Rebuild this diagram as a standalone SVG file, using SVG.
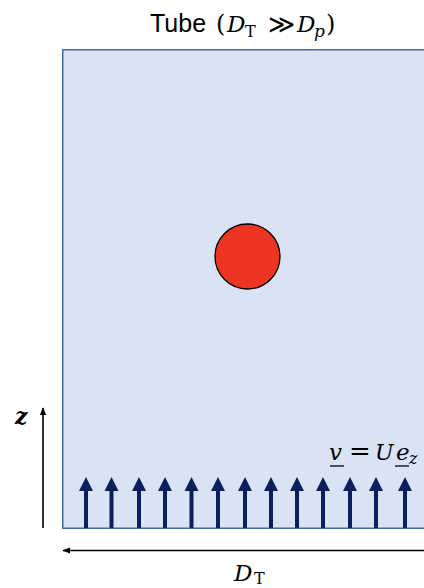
<svg xmlns="http://www.w3.org/2000/svg" xmlns:xlink="http://www.w3.org/1999/xlink" width="424" height="588" viewBox="0 0 424 588">
<style>
.sans{font-family:"Liberation Sans",Arial,sans-serif;fill:#000}
.math{font-family:"DejaVu Serif","Liberation Serif",serif;font-style:italic;fill:#000}
.up{font-style:normal}
.axis{stroke:#000;stroke-width:1.6;fill:none}
</style>
<defs>
<marker id="ah" viewBox="0 0 10 10" refX="9" refY="5" markerWidth="8" markerHeight="8" orient="auto-start-reverse" markerUnits="userSpaceOnUse">
<path d="M0,1 L10,5 L0,9 Z" fill="#000"/>
</marker>
<g id="flow">
<rect x="-2" y="-38" width="4" height="38" fill="#0B1F5E"/>
<path d="M-7,-37 L0,-51 L7,-37 Z" fill="#0B1F5E"/>
</g>
</defs>
<rect width="424" height="588" fill="#fff"/>
<g id="tube">
<rect x="62.75" y="49.75" width="370" height="478.5" fill="#DAE3F3" stroke="#4468A8" stroke-width="1.5"/>
</g>
<g id="particle">
<circle cx="247.5" cy="256.5" r="32.5" fill="#EE3524" stroke="#000" stroke-width="1.3"/>
</g>
<g id="title">
<text class="sans" x="150" y="32" font-size="25">Tube <tspan class="math up" x="216" font-size="24">(</tspan><tspan class="math" x="227" font-size="23">D</tspan><tspan class="math up" x="245" y="37" font-size="16">T</tspan><tspan class="math up" x="268" y="33" font-size="26">≫</tspan><tspan class="math" x="297" y="32" font-size="23">D</tspan><tspan class="math" x="314" y="37" font-size="17">p</tspan><tspan class="math up" x="326" y="32" font-size="24">)</tspan></text>
</g>
<g id="connectors">
<line class="axis" x1="43" y1="528" x2="43" y2="408" marker-end="url(#ah)"/>
<line class="axis" x1="63" y1="550.5" x2="430" y2="550.5" marker-start="url(#ah)"/>
<g id="inflow">
<use xlink:href="#flow" x="86" y="528"/>
<use xlink:href="#flow" x="111.5" y="528"/>
<use xlink:href="#flow" x="139" y="528"/>
<use xlink:href="#flow" x="165" y="528"/>
<use xlink:href="#flow" x="191.5" y="528"/>
<use xlink:href="#flow" x="218" y="528"/>
<use xlink:href="#flow" x="245" y="528"/>
<use xlink:href="#flow" x="271" y="528"/>
<use xlink:href="#flow" x="297" y="528"/>
<use xlink:href="#flow" x="323" y="528"/>
<use xlink:href="#flow" x="350" y="528"/>
<use xlink:href="#flow" x="376" y="528"/>
<use xlink:href="#flow" x="405" y="528"/>
</g>
</g>
<g id="labels">
<text class="math" x="15" y="424" font-size="22" font-weight="bold">z</text>
<text class="math" x="329" y="460" font-size="23">v<tspan class="up" x="349" font-size="26">=</tspan><tspan x="375" font-size="22">U</tspan><tspan x="396" font-size="23">e</tspan><tspan x="409" y="464" font-size="16">z</tspan></text>
<line x1="330" y1="466" x2="344" y2="466" stroke="#000" stroke-width="1.3"/>
<line x1="395" y1="466" x2="409" y2="466" stroke="#000" stroke-width="1.3"/>
<text class="math" x="234" y="581" font-size="23">D<tspan class="up" x="254" y="584" font-size="16">T</tspan></text>
</g>
</svg>
